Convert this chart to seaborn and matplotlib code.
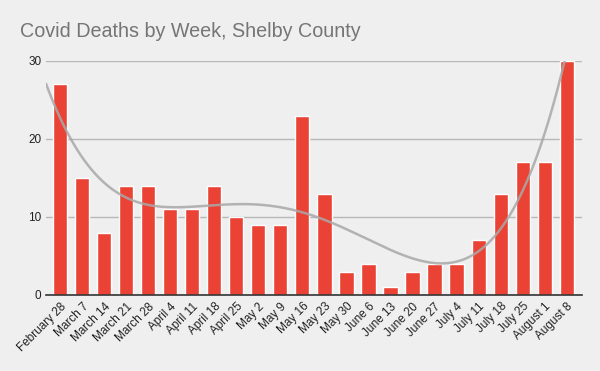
import numpy as np
import pandas as pd
import matplotlib
matplotlib.use("Agg")
import matplotlib.pyplot as plt
import seaborn as sns

weeks = ["February 28", "March 7", "March 14", "March 21", "March 28", "April 4",
         "April 11", "April 18", "April 25", "May 2", "May 9", "May 16", "May 23",
         "May 30", "June 6", "June 13", "June 20", "June 27", "July 4", "July 11",
         "July 18", "July 25", "August 1", "August 8"]
deaths = [27, 15, 8, 14, 14, 11, 11, 14, 10, 9, 9, 23, 13, 3, 4, 1, 3, 4, 4, 7,
          13, 17, 17, 30]
y_ticks = [0, 10, 20, 30]
trend_degree = 4

sns.set_theme(style="white")
plt.rcParams['font.family'] = ['Arial', 'Liberation Sans', 'DejaVu Sans']

bg = "#efefef"
fig = plt.figure(figsize=(6, 3.71), dpi=100, facecolor=bg)
ax = fig.add_axes([0.0767, 0.2049, 0.8933, 0.6307])
ax.set_facecolor(bg)

df = pd.DataFrame({"week": weeks, "deaths": deaths})
sns.barplot(data=df, x="week", y="deaths", color="#ea4335", saturation=1,
            width=0.64, ax=ax, zorder=3)

# polynomial trendline
xi = np.arange(len(deaths))
coef = np.polyfit(xi, deaths, trend_degree)
xs = np.linspace(-0.65, len(deaths) - 1, 300)
trend = pd.DataFrame({"x": xs, "y": np.polyval(coef, xs)})
sns.lineplot(data=trend, x="x", y="y", color="#a8a8a8", linewidth=1.8,
             alpha=0.85, ax=ax, zorder=4)

ax.set_xlim(-0.65, len(deaths) - 0.3)
ax.set_ylim(0, 30)
ax.set_yticks(y_ticks)
ax.yaxis.grid(True, color="#b7b7b7", linewidth=1)
ax.set_axisbelow(True)
for s in ["top", "right", "left"]:
    ax.spines[s].set_visible(False)
ax.spines["bottom"].set_color("#333333")
ax.spines["bottom"].set_linewidth(1.2)
ax.spines["bottom"].set_zorder(5)
ax.set_xlabel("")
ax.set_ylabel("")
ax.tick_params(axis="both", length=0, labelsize=8.5, colors="#222222")
ax.tick_params(axis="x", pad=4)
for lab in ax.get_xticklabels():
    lab.set_rotation(45)
    lab.set_ha("right")
    lab.set_rotation_mode("anchor")

fig.text(0.033, 0.900, "Covid Deaths by Week, Shelby County", fontsize=14.2,
         color="#757575", ha="left", va="baseline")

fig.savefig("out.png", dpi=100, facecolor=bg)
